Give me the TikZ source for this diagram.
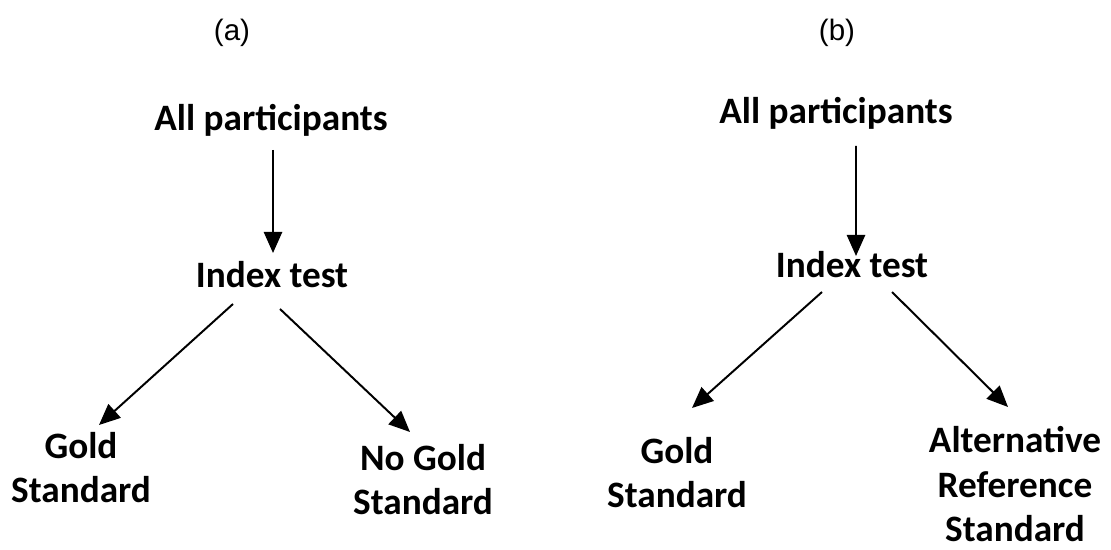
\documentclass[tikz,border=0pt]{standalone}
\usepackage{fontspec}
\setmainfont{Carlito}
\newfontfamily\panelfont{Liberation Sans}
\usepackage{tikz}
\usetikzlibrary{arrows.meta}

\begin{document}
\begin{tikzpicture}[>={Triangle[length=15pt, width=13pt]},
    box/.style={inner sep=0pt, anchor=base, align=center,
                font=\fontsize{26.5pt}{32pt}\selectfont\bfseries},
    panel/.style={inner sep=0pt, anchor=base,
                  font=\fontsize{21pt}{25pt}\selectfont\panelfont},
    arr/.style={->, line width=1.4pt}]
  \useasboundingbox (0, 0) rectangle (27.775, 13.75);

  % Panel (a)
  \node[panel] (labA) at (5.8, 12.725) {(a)};
  \node[box] (allA)    at (6.775, 10.475) {All participants};
  \node[box] (idxA)    at (6.8, 6.55)     {Index test};
  \node[box] (goldA)   at (2.025, 1.175)  {Gold\\Standard};
  \node[box] (nogoldA) at (10.575, 0.875) {No Gold\\Standard};

  \draw[arr] ([shift={(0.05,-0.475)}]allA.base) -- ([shift={(0.025,0.875)}]idxA.base);
  \draw[arr] ([shift={(-0.975,-0.4)}]idxA.base) -- ([shift={(0.45,1.95)}]goldA.base);
  \draw[arr] ([shift={(0.2,-0.525)}]idxA.base) -- ([shift={(-0.325,2.075)}]nogoldA.base);

  % Panel (b)
  \node[panel] (labB) at (20.925, 12.725) {(b)};
  \node[box] (allB)  at (20.9, 10.65)   {All participants};
  \node[box] (idxB)  at (21.3, 6.8)     {Index test};
  \node[box] (goldB) at (16.925, 1.05)  {Gold\\Standard};
  \node[box] (altB)  at (25.375, 0.2)   {Alternative\\Reference\\Standard};

  \draw[arr] ([shift={(0.5,-0.55)}]allB.base) -- ([shift={(0.1,0.55)}]idxB.base);
  \draw[arr] ([shift={(-0.75,-0.35)}]idxB.base) -- ([shift={(0.375,2.5)}]goldB.base);
  \draw[arr] ([shift={(1.0,-0.35)}]idxB.base) -- ([shift={(-0.175,3.375)}]altB.base);
\end{tikzpicture}
\end{document}
